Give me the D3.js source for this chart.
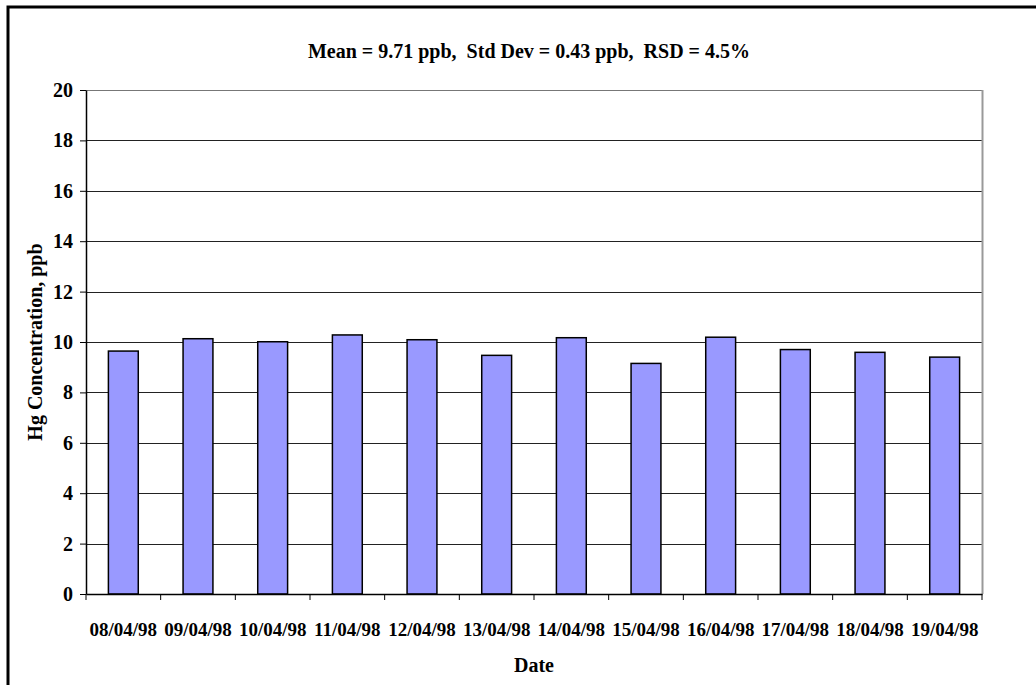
<!DOCTYPE html>
<html>
<head>
<meta charset="utf-8">
<script src="https://cdn.jsdelivr.net/npm/d3@7"></script>
<style>
    body { margin: 0; background: #fff; }
    svg text { font-family: "Liberation Serif", "Times New Roman", serif; font-weight: bold; fill: #000; }
</style>
</head>
<body>
<div id="chart"></div>
<script>
// Hg concentration by date
const dates = ["08/04/98", "09/04/98", "10/04/98", "11/04/98", "12/04/98", "13/04/98",
    "14/04/98", "15/04/98", "16/04/98", "17/04/98", "18/04/98", "19/04/98"];
const hgValues = [9.64, 10.13, 10.01, 10.28, 10.09, 9.47, 10.17, 9.15, 10.19, 9.70, 9.59, 9.40];
const yTicks = [0, 2, 4, 6, 8, 10, 12, 14, 16, 18, 20];
const titleText = "Mean = 9.71 ppb,\u00a0\u00a0Std Dev = 0.43 ppb,\u00a0\u00a0RSD = 4.5%";

const width = 1036, height = 685;
const plot = { left: 86, right: 982, top: 90, bottom: 594 };

const svg = d3.select("#chart")
    .append("svg")
    .attr("width", width)
    .attr("height", height);

// Outer frame (only top and left edges show)
svg.append("path")
    .attr("d", `M8,${height} L8,7 L${width},7`)
    .attr("fill", "none")
    .attr("stroke", "#000")
    .attr("stroke-width", 3);

const x = d3.scaleBand()
    .domain(dates)
    .range([plot.left, plot.right])
    .paddingInner(0.6)
    .paddingOuter(0.3);

const y = d3.scaleLinear()
    .domain([0, 20])
    .range([plot.bottom, plot.top]);

// Gridlines
svg.selectAll(".grid")
    .data(yTicks.filter(d => d > 0))
    .enter()
    .append("line")
    .attr("x1", plot.left)
    .attr("x2", plot.right)
    .attr("y1", d => Math.round(y(d)) + 0.5)
    .attr("y2", d => Math.round(y(d)) + 0.5)
    .attr("stroke", d => d === 20 ? "#777" : "#222")
    .attr("stroke-width", 1);

// Right edge of plot area
svg.append("line")
    .attr("x1", plot.right + 0.5)
    .attr("x2", plot.right + 0.5)
    .attr("y1", plot.top)
    .attr("y2", plot.bottom)
    .attr("stroke", "#999")
    .attr("stroke-width", 2);

// Bars
svg.selectAll(".bar")
    .data(hgValues)
    .enter()
    .append("rect")
    .attr("class", "bar")
    .attr("x", (d, i) => x(dates[i]))
    .attr("y", d => y(d))
    .attr("width", x.bandwidth())
    .attr("height", d => plot.bottom - y(d))
    .attr("fill", "#9999ff")
    .attr("stroke", "#000")
    .attr("stroke-width", 1.5);

// Y axis
const yAxis = svg.append("g")
    .attr("transform", `translate(${plot.left},0)`)
    .call(d3.axisLeft(y).tickValues(yTicks).tickSize(6).tickSizeOuter(0).tickPadding(7));
yAxis.select(".domain").attr("stroke", "#000").attr("stroke-width", 1.5);
yAxis.selectAll(".tick line").attr("stroke", "#000");
yAxis.selectAll(".tick text").style("font-size", "20px");

// X axis with ticks between categories
const step = (plot.right - plot.left) / dates.length;
const xAxis = svg.append("g")
    .attr("transform", `translate(0,${plot.bottom})`)
    .call(d3.axisBottom(x).tickSize(0).tickPadding(28.5));
xAxis.select(".domain").attr("stroke", "#000").attr("stroke-width", 1.5);
xAxis.selectAll(".tick text").style("font-size", "19px");
xAxis.selectAll(".sep")
    .data(d3.range(dates.length + 1))
    .enter()
    .append("line")
    .attr("x1", d => plot.left + d * step)
    .attr("x2", d => plot.left + d * step)
    .attr("y1", 0)
    .attr("y2", 6)
    .attr("stroke", "#000");

// Title
svg.append("text")
    .attr("x", 529)
    .attr("y", 58)
    .attr("text-anchor", "middle")
    .style("font-size", "20px")
    .text(titleText);

// Axis titles
svg.append("text")
    .attr("x", (plot.left + plot.right) / 2)
    .attr("y", 672)
    .attr("text-anchor", "middle")
    .style("font-size", "20px")
    .text("Date");

svg.append("text")
    .attr("transform", `translate(42,${(plot.top + plot.bottom) / 2}) rotate(-90)`)
    .attr("text-anchor", "middle")
    .style("font-size", "20px")
    .text("Hg Concentration, ppb");
</script>
</body>
</html>
